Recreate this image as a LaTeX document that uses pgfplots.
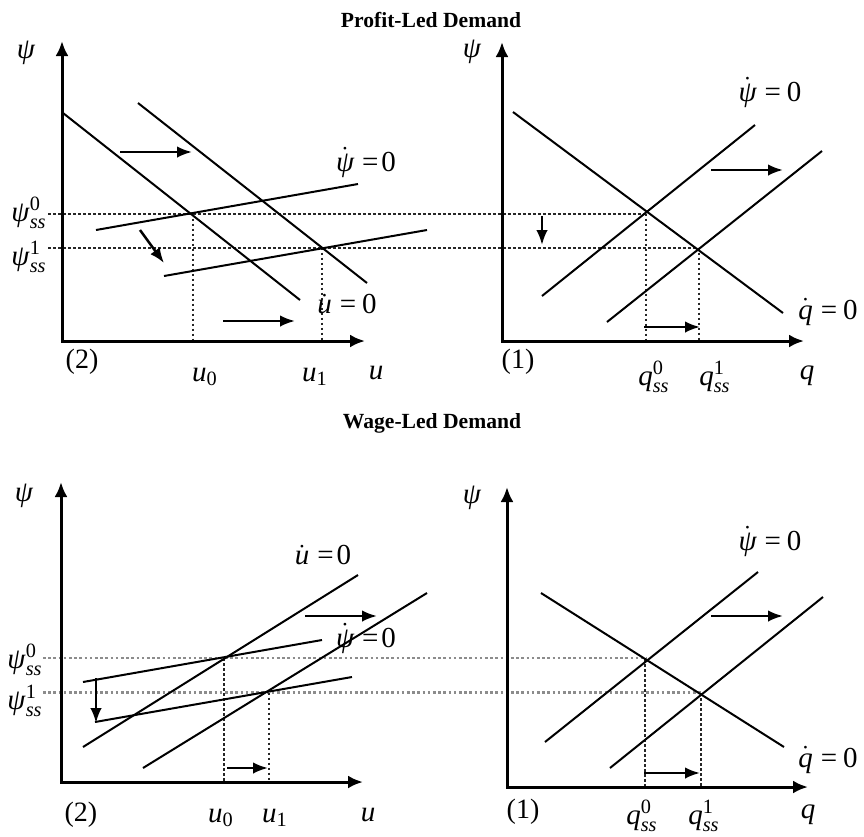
\RequirePackage{fix-cm}
\documentclass[border=0pt]{standalone}
\usepackage{amsmath}
\usepackage{fontspec}
\setmainfont{Liberation Serif}
\usepackage{pgfplots}
\pgfplotsset{compat=1.18}
\usetikzlibrary{arrows.meta}
\newcommand\mi[1]{\textit{#1}}
\newcommand\pss[1]{\mi{ψ}$^{\textrm{#1}}_{\mi{ss}}$}
\newcommand\qss[1]{\mi{q}$^{\textrm{#1}}_{\mi{ss}}$}
\newcommand\psid{$\dot{\mi{ψ}}$}
\newcommand\ud{$\dot{\mi{u}}$}
\newcommand\qd{$\dot{\mi{q}}$}
\tikzset{
  ln/.style={line width=1pt, black},
  dtA/.style={line width=1pt, black!85, dash pattern=on 1.4pt off 1.1pt},
  dtB/.style={line width=1.1pt, black!45, dash pattern=on 1.3pt off 1.3pt},
  ax/.style={line width=1.5pt, black, {Latex[length=7.5pt,width=6.5pt]}-{Latex[length=7.5pt,width=6.5pt]}},
  ar/.style={line width=1.25pt, black, -{Latex[length=7.5pt,width=5.8pt]}},
  ml/.style={font=\fontsize{14.5}{16}\selectfont, inner sep=0pt},
  tl/.style={font=\fontsize{14}{16}\selectfont, inner sep=0pt},
  tt/.style={font=\fontsize{10.8}{12}\selectfont\bfseries, inner sep=0pt, anchor=base},
}
\begin{document}
\begin{tikzpicture}
\begin{axis}[x=0.5pt, y=0.5pt, y dir=reverse, xmin=0, xmax=864, ymin=0, ymax=837,
  hide axis, clip=false]
\path (axis cs:0,0) rectangle (axis cs:864,837);
% ================= TOP LEFT =================
\addplot[dtA] coordinates {(48,213.5) (647,213.5)};
\addplot[dtA] coordinates {(48,247.5) (698,247.5)};
\addplot[dtA] coordinates {(193,213.5) (193,341)};
\addplot[dtA] coordinates {(322,247.5) (322,341)};
\addplot[ax] coordinates {(62,41) (62,341) (365,341)};
\addplot[ln] coordinates {(63,113) (300,300)};
\addplot[ln] coordinates {(138,103) (367,283)};
\addplot[ln] coordinates {(96,230) (358,184)};
\addplot[ln] coordinates {(164,276) (427,230)};
\addplot[ar] coordinates {(120,152) (192,152)};
\addplot[ar] coordinates {(140,230) (164,263)};
\addplot[ar] coordinates {(223,321) (295,321)};
\node[ml] at (axis cs:26,53) {\mi{ψ}};
\node[ml] at (axis cs:29,213) {\pss{0}};
\node[ml] at (axis cs:29,257) {\pss{1}};
\node[ml] at (axis cs:366,162) {\psid\hspace{4pt}=\hspace{1.5pt}0};
\node[ml] at (axis cs:347,304) {\ud\hspace{4pt}=\hspace{3pt}0};
\node[tl] at (axis cs:82,362) {(2)};
\node[ml] at (axis cs:205,377) {\mi{u}$_{\textrm{0}}$};
\node[ml] at (axis cs:315,377) {\mi{u}$_{\textrm{1}}$};
\node[ml] at (axis cs:376,373) {\mi{u}};
\node[tt] at (axis cs:431,27) {Profit-Led Demand};
% ================= TOP RIGHT =================
\addplot[dtA] coordinates {(646,213.5) (646,341)};
\addplot[dtA] coordinates {(699,247.5) (699,341)};
\addplot[ax] coordinates {(502,42) (502,341) (804,341)};
\addplot[ln] coordinates {(513,112) (783,313)};
\addplot[ln] coordinates {(542,296) (755,125)};
\addplot[ln] coordinates {(607,322) (822,151)};
\addplot[ar] coordinates {(542,216) (542,245)};
\addplot[ar] coordinates {(711,170) (783,170)};
\addplot[ar] coordinates {(644,327) (700,327)};
\node[ml] at (axis cs:472,52) {\mi{ψ}};
\node[ml] at (axis cs:770,92) {\psid\hspace{4pt}=\hspace{3pt}0};
\node[ml] at (axis cs:828,312) {\qd\hspace{4pt}=\hspace{3pt}0};
\node[tl] at (axis cs:518,362) {(1)};
\node[ml] at (axis cs:654,377) {\qss{0}};
\node[ml] at (axis cs:715,377) {\qss{1}};
\node[ml] at (axis cs:807,376) {\mi{q}};
% ================= BOTTOM LEFT =================
\addplot[dtB] coordinates {(43,658) (647,658)};
\addplot[dtB] coordinates {(43,692.5) (701,692.5)};
\addplot[dtA] coordinates {(224,658) (224,782)};
\addplot[dtA] coordinates {(269,692.5) (269,782)};
\addplot[ax] coordinates {(61,482) (61,782) (363,782)};
\addplot[ln] coordinates {(83,747) (358,575)};
\addplot[ln] coordinates {(143,768) (427,593)};
\addplot[ln] coordinates {(83,682) (322,640)};
\addplot[ln] coordinates {(95,722) (352,677)};
\addplot[ar] coordinates {(96,678) (96,723)};
\addplot[ar] coordinates {(305,616) (377,616)};
\addplot[ar] coordinates {(227,768) (268,768)};
\node[ml] at (axis cs:24,496) {\mi{ψ}};
\node[ml] at (axis cs:25,660) {\pss{0}};
\node[ml] at (axis cs:25,701) {\pss{1}};
\node[ml] at (axis cs:323,555) {\ud\hspace{4pt}=\hspace{1.5pt}0};
\node[ml] at (axis cs:366,638) {\psid\hspace{4pt}=\hspace{1.5pt}0};
\node[tl] at (axis cs:81,815) {(2)};
\node[ml] at (axis cs:221,818) {\mi{u}$_{\textrm{0}}$};
\node[ml] at (axis cs:275,818) {\mi{u}$_{\textrm{1}}$};
\node[ml] at (axis cs:368,815) {\mi{u}};
\node[tt] at (axis cs:432,428) {Wage-Led Demand};
% ================= BOTTOM RIGHT =================
\addplot[dtA] coordinates {(645,659) (645,787)};
\addplot[dtA] coordinates {(701,693) (701,787)};
\addplot[ax] coordinates {(507,487) (507,787) (808,787)};
\addplot[ln] coordinates {(541,593) (784,747)};
\addplot[ln] coordinates {(545,742) (758,572)};
\addplot[ln] coordinates {(610,768) (823,597)};
\addplot[ar] coordinates {(711,616) (783,616)};
\addplot[ar] coordinates {(644,773) (700,773)};
\node[ml] at (axis cs:472,498) {\mi{ψ}};
\node[ml] at (axis cs:770,541) {\psid\hspace{4pt}=\hspace{3pt}0};
\node[ml] at (axis cs:828,760) {\qd\hspace{4pt}=\hspace{3pt}0};
\node[tl] at (axis cs:523,812) {(1)};
\node[ml] at (axis cs:642,816) {\qss{0}};
\node[ml] at (axis cs:704,816) {\qss{1}};
\node[ml] at (axis cs:808,815) {\mi{q}};
\end{axis}
\end{tikzpicture}
\end{document}
